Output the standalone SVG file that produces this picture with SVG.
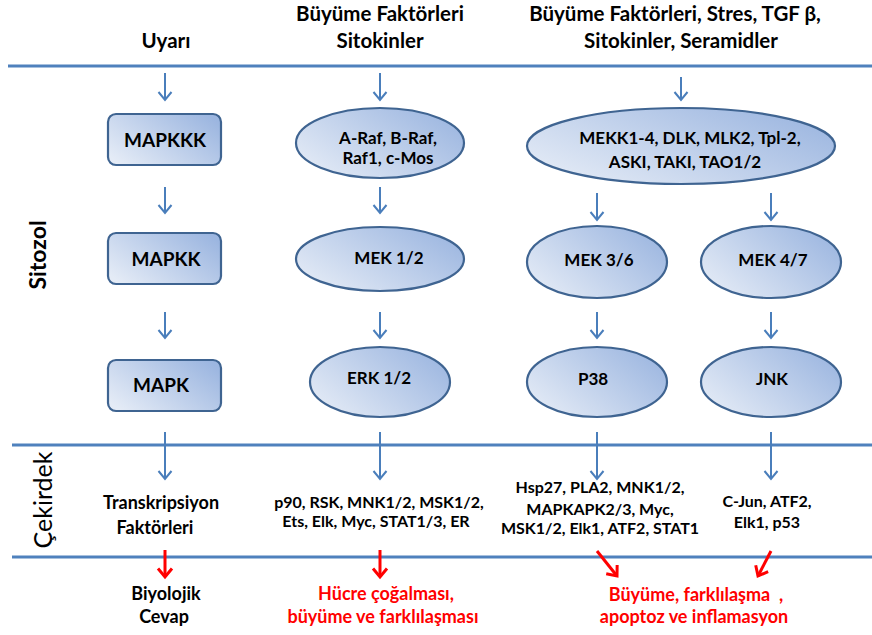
<svg xmlns="http://www.w3.org/2000/svg" width="872" height="635" viewBox="0 0 872 635">
<style>
.t{font-family:Lato,"Liberation Sans",sans-serif;font-weight:bold;fill:#000;text-anchor:middle}
.h{font-size:20.5px}
.n{font-size:17px}
.m{font-size:19px}
.s{font-size:16px}
.b{font-size:18px}
.r{fill:#FF0000}
.sep{stroke:#4F81BD;stroke-width:3}
.node{fill:url(#g);stroke:#3F6491;stroke-width:2.2}
.a{stroke:#4A7EBB;stroke-width:2;fill:none;marker-end:url(#ab)}
.ar{stroke:#FF0000;stroke-width:3;fill:none;marker-end:url(#ar)}
</style>
<defs>
<linearGradient id="g" x1="0" y1="0.8" x2="1" y2="0.2">
<stop offset="0" stop-color="#E4EBF6"/>
<stop offset="1" stop-color="#9CB6E0"/>
</linearGradient>
<marker id="ab" viewBox="-10 -10 20 20" markerWidth="20" markerHeight="20" refX="0" refY="0" orient="auto" markerUnits="userSpaceOnUse">
<path d="M-8,-6.5 L0,0 L-8,6.5" fill="none" stroke="#4A7EBB" stroke-width="2"/>
</marker>
<marker id="ar" viewBox="-10 -10 20 20" markerWidth="20" markerHeight="20" refX="0" refY="0" orient="auto" markerUnits="userSpaceOnUse">
<path d="M-8.5,-7 L0,0 L-8.5,7" fill="none" stroke="#FF0000" stroke-width="3"/>
</marker>
</defs>
<rect width="872" height="635" fill="#FFFFFF"/>

<g id="separators">
<line class="sep" x1="8" y1="66" x2="872" y2="66"/>
<line class="sep" x1="12" y1="445" x2="872" y2="445"/>
<line class="sep" x1="12" y1="557" x2="872" y2="557"/>
</g>

<g id="headers">
<text class="t h" x="166" y="48">Uyarı</text>
<text class="t h" x="380" y="21">Büyüme Faktörleri</text>
<text class="t h" x="380" y="48">Sitokinler</text>
<text class="t h" x="675" y="21">Büyüme Faktörleri, Stres, TGF β,</text>
<text class="t h" x="681" y="48">Sitokinler, Seramidler</text>
</g>

<g id="regions">
<text class="t" style="font-size:23px" transform="translate(46,255) rotate(-90)">Sitozol</text>
<text class="t" style="font-size:25px;font-weight:normal" transform="translate(52,500) rotate(-90)">Çekirdek</text>
</g>

<g id="connectors">
<line class="a" x1="165" y1="73" x2="165" y2="100"/>
<line class="a" x1="165" y1="187" x2="165" y2="213"/>
<line class="a" x1="165" y1="312" x2="165" y2="338"/>
<line class="a" x1="165" y1="432" x2="165" y2="479"/>
<line class="a" x1="380" y1="73" x2="380" y2="100"/>
<line class="a" x1="380" y1="187" x2="380" y2="213"/>
<line class="a" x1="380" y1="312" x2="380" y2="338"/>
<line class="a" x1="380" y1="432" x2="380" y2="479"/>
<line class="a" x1="681" y1="77" x2="681" y2="100"/>
<line class="a" x1="597" y1="193" x2="597" y2="220"/>
<line class="a" x1="597" y1="312" x2="597" y2="338"/>
<line class="a" x1="597" y1="432" x2="597" y2="479"/>
<line class="a" x1="771" y1="193" x2="771" y2="220"/>
<line class="a" x1="771" y1="312" x2="771" y2="338"/>
<line class="a" x1="771" y1="432" x2="771" y2="479"/>
<line class="ar" x1="165" y1="550" x2="165" y2="577"/>
<line class="ar" x1="380" y1="550" x2="380" y2="577"/>
<line class="ar" x1="597" y1="551" x2="617" y2="576"/>
<line class="ar" x1="771" y1="551" x2="758" y2="576"/>
</g>

<g id="mapkkk">
<rect class="node" x="108" y="114" width="113" height="51" rx="8"/>
<text class="t m" x="165" y="147">MAPKKK</text>
</g>
<g id="mapkk">
<rect class="node" x="108" y="233" width="113" height="51" rx="8"/>
<text class="t m" x="166" y="266">MAPKK</text>
</g>
<g id="mapk">
<rect class="node" x="108" y="360" width="113" height="51" rx="8"/>
<text class="t m" x="161" y="392">MAPK</text>
</g>

<g id="raf">
<ellipse class="node" cx="380" cy="143" rx="84" ry="35"/>
<text class="t n" x="388" y="144">A-Raf, B-Raf,</text>
<text class="t n" x="388" y="164">Raf1, c-Mos</text>
</g>
<g id="mek12">
<ellipse class="node" cx="380" cy="259" rx="84" ry="32"/>
<text class="t n" x="389" y="264">MEK 1/2</text>
</g>
<g id="erk12">
<ellipse class="node" cx="380" cy="382" rx="70" ry="35"/>
<text class="t n" x="379" y="384">ERK 1/2</text>
</g>

<g id="mekk">
<ellipse class="node" cx="681" cy="146" rx="154" ry="38"/>
<text class="t n" x="690" y="144">MEKK1-4, DLK, MLK2, Tpl-2,</text>
<text class="t n" x="685" y="168">ASKI, TAKI, TAO1/2</text>
</g>
<g id="mek36">
<ellipse class="node" cx="597" cy="262" rx="70" ry="36"/>
<text class="t n" x="599" y="266">MEK 3/6</text>
</g>
<g id="mek47">
<ellipse class="node" cx="771" cy="262" rx="70" ry="36"/>
<text class="t n" x="773" y="266">MEK 4/7</text>
</g>
<g id="p38">
<ellipse class="node" cx="597" cy="382" rx="70" ry="35"/>
<text class="t n" x="593" y="385">P38</text>
</g>
<g id="jnk">
<ellipse class="node" cx="771" cy="382" rx="70" ry="35"/>
<text class="t n" x="772" y="385">JNK</text>
</g>

<g id="nuc1">
<text class="t b" x="161" y="509">Transkripsiyon</text>
<text class="t b" x="155" y="534">Faktörleri</text>
</g>
<g id="nuc2">
<text class="t s" x="379" y="508">p90, RSK, MNK1/2, MSK1/2,</text>
<text class="t s" x="376" y="527">Ets, Elk, Myc, STAT1/3, ER</text>
</g>
<g id="nuc3">
<text class="t s" x="600" y="493">Hsp27, PLA2, MNK1/2,</text>
<text class="t s" x="600" y="515">MAPKAPK2/3, Myc,</text>
<text class="t s" x="600" y="534">MSK1/2, Elk1, ATF2, STAT1</text>
</g>
<g id="nuc4">
<text class="t s" x="767" y="507">C-Jun, ATF2,</text>
<text class="t s" x="767" y="528">Elk1, p53</text>
</g>

<g id="resp1">
<text class="t b" x="166" y="600">Biyolojik</text>
<text class="t b" x="164" y="623">Cevap</text>
</g>
<g id="resp2">
<text class="t b r" x="386" y="600">Hücre çoğalması,</text>
<text class="t b r" x="383" y="623">büyüme ve farklılaşması</text>
</g>
<g id="resp3">
<text class="t b r" x="696" y="601" style="white-space:pre">Büyüme, farklılaşma  ,</text>
<text class="t b r" x="694" y="623">apoptoz ve inflamasyon</text>
</g>
</svg>
